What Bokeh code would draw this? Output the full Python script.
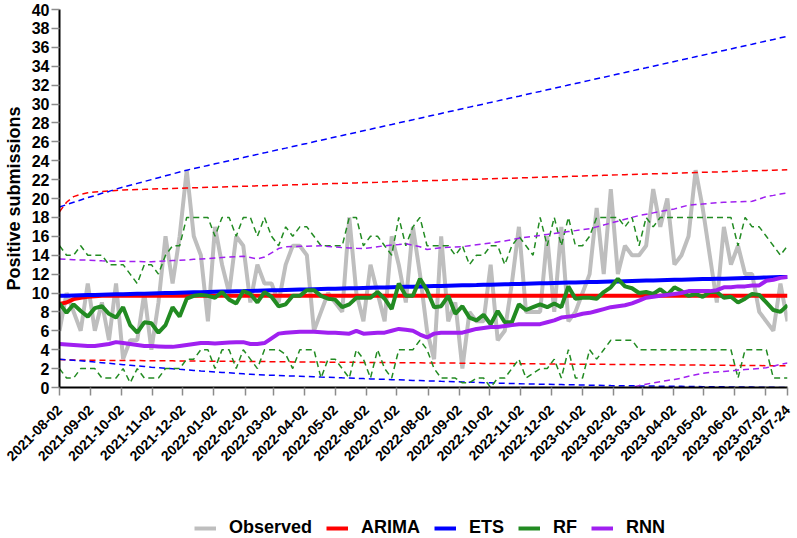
import math
import pandas as pd
from bokeh.plotting import figure
from bokeh.layouts import column
from bokeh.models import (Range1d, FixedTicker, DatetimeTickFormatter, Legend,
                          LegendItem, ColumnDataSource)
from bokeh.embed import file_html
from bokeh.resources import INLINE

# ---------------- data (weekly, starting 2021-08-02) ----------------
start_date = "2021-08-02"

observed = [6, 10, 8, 6, 11, 6, 9, 5, 11, 3,
            5, 5, 10, 4, 9, 16, 11, 16, 23, 16,
            14, 7, 17, 13, 10, 16, 15, 9, 13, 11,
            11, 9, 13, 15, 15, 14, 6, 8, 10, 9,
            8, 18, 10, 7, 13, 10, 7, 16, 13, 9,
            17, 12, 6, 3, 16, 7, 9, 2, 8, 7,
            7, 13, 5, 6, 11, 17, 8, 8, 8, 16,
            8, 17, 7, 8, 10, 12, 19, 12, 21, 12,
            15, 14, 14, 15, 21, 17, 20, 13, 14, 16,
            23, 19, 14, 9, 17, 13, 15, 12, 12, 8,
            7, 6, 11, 7]

arima_mean = [8.85, 9.0, 9.35, 9.5, 9.6, 9.65, 9.7, 9.7, 9.7, 9.7,
              9.7, 9.7, 9.7, 9.7, 9.7, 9.7, 9.7, 9.7, 9.7, 9.7,
              9.7, 9.7, 9.7, 9.7, 9.7, 9.7, 9.7, 9.7, 9.7, 9.7,
              9.7, 9.7, 9.7, 9.7, 9.7, 9.7, 9.7, 9.7, 9.7, 9.7,
              9.7, 9.7, 9.7, 9.7, 9.7, 9.7, 9.7, 9.7, 9.7, 9.7,
              9.7, 9.7, 9.7, 9.7, 9.7, 9.7, 9.7, 9.7, 9.7, 9.7,
              9.7, 9.7, 9.7, 9.7, 9.7, 9.7, 9.7, 9.7, 9.7, 9.7,
              9.7, 9.7, 9.7, 9.7, 9.7, 9.7, 9.7, 9.7, 9.7, 9.7,
              9.7, 9.7, 9.7, 9.7, 9.7, 9.7, 9.7, 9.7, 9.7, 9.7,
              9.7, 9.7, 9.7, 9.7, 9.7, 9.7, 9.7, 9.7, 9.7, 9.7,
              9.7, 9.7, 9.7, 9.7]

arima_upper = [18.6, 19.6, 20.2, 20.45, 20.6, 20.7, 20.75, 20.8, 20.85, 20.9,
               20.92, 20.95, 20.97, 21.0, 21.02, 21.04, 21.06, 21.09, 21.11, 21.13,
               21.15, 21.18, 21.2, 21.22, 21.25, 21.27, 21.29, 21.31, 21.34, 21.36,
               21.38, 21.4, 21.43, 21.45, 21.47, 21.5, 21.52, 21.54, 21.56, 21.59,
               21.61, 21.63, 21.65, 21.68, 21.7, 21.72, 21.75, 21.77, 21.79, 21.81,
               21.84, 21.86, 21.88, 21.9, 21.93, 21.95, 21.97, 22.0, 22.02, 22.04,
               22.06, 22.09, 22.11, 22.13, 22.15, 22.18, 22.2, 22.22, 22.25, 22.27,
               22.29, 22.31, 22.34, 22.36, 22.38, 22.4, 22.43, 22.45, 22.47, 22.5,
               22.52, 22.54, 22.56, 22.59, 22.61, 22.63, 22.65, 22.68, 22.7, 22.72,
               22.75, 22.77, 22.79, 22.81, 22.84, 22.86, 22.88, 22.9, 22.93, 22.95,
               22.97, 23.0, 23.02, 23.04]

arima_lower = [2.95, 2.92, 2.9, 2.89, 2.89, 2.88, 2.88, 2.87, 2.86, 2.86,
               2.85, 2.85, 2.84, 2.83, 2.83, 2.82, 2.82, 2.81, 2.8, 2.8,
               2.79, 2.79, 2.78, 2.77, 2.77, 2.76, 2.76, 2.75, 2.74, 2.74,
               2.73, 2.73, 2.72, 2.71, 2.71, 2.7, 2.7, 2.69, 2.68, 2.68,
               2.67, 2.67, 2.66, 2.65, 2.65, 2.64, 2.64, 2.63, 2.62, 2.62,
               2.61, 2.61, 2.6, 2.59, 2.59, 2.58, 2.58, 2.57, 2.56, 2.56,
               2.55, 2.55, 2.54, 2.53, 2.53, 2.52, 2.52, 2.51, 2.5, 2.5,
               2.49, 2.49, 2.48, 2.47, 2.47, 2.46, 2.46, 2.45, 2.44, 2.44,
               2.43, 2.43, 2.42, 2.41, 2.41, 2.4, 2.4, 2.39, 2.38, 2.38,
               2.37, 2.37, 2.36, 2.35, 2.35, 2.34, 2.34, 2.33, 2.32, 2.32,
               2.31, 2.31, 2.3, 2.3]

ets_mean = [9.7, 9.72, 9.74, 9.76, 9.78, 9.8, 9.82, 9.84, 9.86, 9.87,
            9.89, 9.91, 9.93, 9.95, 9.97, 9.99, 10.01, 10.03, 10.05, 10.07,
            10.09, 10.11, 10.13, 10.15, 10.17, 10.19, 10.2, 10.22, 10.24, 10.26,
            10.28, 10.3, 10.32, 10.34, 10.36, 10.38, 10.4, 10.42, 10.44, 10.46,
            10.48, 10.5, 10.51, 10.53, 10.55, 10.57, 10.59, 10.61, 10.63, 10.65,
            10.67, 10.69, 10.71, 10.73, 10.75, 10.77, 10.79, 10.81, 10.83, 10.84,
            10.86, 10.88, 10.9, 10.92, 10.94, 10.96, 10.98, 11.0, 11.02, 11.04,
            11.06, 11.08, 11.1, 11.12, 11.14, 11.16, 11.17, 11.19, 11.21, 11.23,
            11.25, 11.27, 11.29, 11.31, 11.33, 11.35, 11.37, 11.39, 11.41, 11.43,
            11.45, 11.47, 11.48, 11.5, 11.52, 11.54, 11.56, 11.58, 11.6, 11.62,
            11.64, 11.66, 11.68, 11.7]

ets_upper = [19.1, 19.35, 19.6, 19.85, 20.1, 20.3, 20.55, 20.75, 21.0, 21.2,
             21.4, 21.6, 21.8, 22.0, 22.2, 22.4, 22.6, 22.8, 23.0, 23.17,
             23.33, 23.5, 23.67, 23.83, 24.0, 24.17, 24.33, 24.5, 24.67, 24.83,
             25.0, 25.17, 25.33, 25.5, 25.67, 25.83, 26.0, 26.17, 26.33, 26.5,
             26.67, 26.83, 27.0, 27.17, 27.33, 27.5, 27.67, 27.83, 28.0, 28.17,
             28.33, 28.5, 28.67, 28.83, 29.0, 29.17, 29.33, 29.5, 29.67, 29.83,
             30.0, 30.17, 30.33, 30.5, 30.67, 30.83, 31.0, 31.17, 31.33, 31.5,
             31.67, 31.83, 32.0, 32.17, 32.33, 32.5, 32.67, 32.83, 33.0, 33.17,
             33.33, 33.5, 33.67, 33.83, 34.0, 34.17, 34.33, 34.5, 34.67, 34.83,
             35.0, 35.17, 35.33, 35.5, 35.67, 35.83, 36.0, 36.17, 36.33, 36.5,
             36.67, 36.83, 37.0, 37.17]

ets_lower = [3.0, 2.94, 2.88, 2.82, 2.76, 2.7, 2.63, 2.56, 2.49, 2.42,
             2.35, 2.28, 2.22, 2.15, 2.09, 2.04, 1.98, 1.92, 1.87, 1.81,
             1.75, 1.7, 1.65, 1.6, 1.55, 1.5, 1.45, 1.4, 1.35, 1.32,
             1.3, 1.27, 1.24, 1.21, 1.19, 1.16, 1.13, 1.1, 1.08, 1.05,
             1.02, 1.0, 0.97, 0.94, 0.91, 0.89, 0.86, 0.83, 0.81, 0.78,
             0.75, 0.73, 0.7, 0.68, 0.65, 0.63, 0.61, 0.58, 0.56, 0.54,
             0.51, 0.49, 0.46, 0.44, 0.42, 0.4, 0.38, 0.37, 0.35, 0.34,
             0.32, 0.31, 0.29, 0.28, 0.26, 0.25, 0.23, 0.22, 0.2, 0.19,
             0.18, 0.18, 0.17, 0.16, 0.15, 0.14, 0.13, 0.13, 0.12, 0.11,
             0.1, 0.09, 0.08, 0.08, 0.07, 0.06, 0.05, 0.05, 0.04, 0.03,
             0.02, 0.02, 0.01, 0.0]

rf_mean = [8.9, 7.9, 8.8, 8.1, 7.5, 8.4, 8.6, 7.8, 7.4, 8.5,
           6.6, 5.8, 6.9, 6.8, 5.8, 6.6, 8.5, 7.5, 9.4, 9.7,
           9.8, 9.7, 9.5, 10.1, 9.3, 8.9, 10.2, 9.9, 9.0, 10.1,
           9.6, 8.6, 8.8, 9.7, 9.7, 10.3, 10.3, 9.7, 9.4, 9.3,
           8.5, 8.8, 9.5, 9.5, 9.5, 10.1, 9.4, 8.3, 11.0, 9.7,
           9.7, 11.5, 10.3, 8.5, 8.6, 9.7, 7.8, 8.6, 7.4, 7.1,
           7.7, 6.7, 8.1, 6.9, 6.9, 8.8, 8.2, 8.5, 8.8, 8.5,
           8.9, 8.5, 10.7, 9.4, 9.5, 9.5, 9.4, 10.1, 10.6, 11.5,
           10.7, 10.5, 10.0, 10.1, 9.9, 10.4, 9.8, 10.6, 10.2, 9.7,
           9.9, 9.6, 10.1, 10.1, 9.5, 9.6, 9.0, 9.4, 9.9, 9.8,
           9.0, 8.2, 8.0, 8.7]

rf_upper = [15, 14, 14, 15, 14, 14, 14, 13, 13, 13,
            12, 11, 13, 13, 12, 14, 15, 15, 18, 18,
            18, 18, 16, 18, 18, 16, 18, 18, 16, 18,
            16, 15, 17, 16, 17, 17, 16, 15, 15, 15,
            15, 18, 18, 15, 16, 16, 15, 14, 18, 15,
            17, 18, 15, 15, 15, 15, 14, 15, 13, 14,
            14, 15, 15, 13, 15, 16, 15, 14, 18, 15,
            18, 15, 18, 15, 15, 16, 18, 18, 18, 18,
            17, 18, 15, 18, 17, 18, 18, 18, 18, 18,
            18, 18, 18, 18, 18, 18, 15, 18, 17, 17,
            16, 15, 14, 15]

rf_lower = [2, 1, 1, 2, 2, 2, 1, 1, 1, 2,
            0.5, 2, 1, 1, 1, 2, 2, 2, 3, 3,
            4, 4, 2, 4, 4, 2, 4, 3, 2, 4,
            4, 4, 3.5, 2, 4, 4, 4, 1, 3, 3,
            2, 1, 4, 3, 1, 4, 2, 1, 4, 4,
            4, 5, 4, 2, 1, 1, 1, 0.5, 0.5, 1,
            1, 0, 1, 1, 2, 3, 1, 1.5, 2, 2,
            3, 1, 4, 1, 1, 4, 3, 4, 5, 5,
            5, 5, 4, 4, 4, 4, 4, 4, 4, 4,
            4, 4, 4, 4, 4, 4, 1, 4, 4, 4,
            4, 1, 1, 1]

rnn_mean = [4.6, 4.55, 4.5, 4.45, 4.4, 4.4, 4.5, 4.6, 4.8, 4.7,
            4.6, 4.5, 4.4, 4.4, 4.35, 4.3, 4.3, 4.4, 4.5, 4.6,
            4.7, 4.7, 4.65, 4.7, 4.75, 4.8, 4.8, 4.6, 4.6, 4.7,
            5.2, 5.7, 5.8, 5.85, 5.9, 5.9, 5.9, 5.85, 5.8, 5.8,
            5.75, 5.7, 6.0, 5.7, 5.75, 5.8, 5.8, 6.0, 6.2, 6.1,
            6.0, 5.6, 5.3, 5.7, 5.8, 5.8, 5.8, 5.8, 6.0, 6.2,
            6.3, 6.4, 6.4, 6.5, 6.6, 6.7, 6.7, 6.7, 6.7, 6.9,
            7.1, 7.4, 7.5, 7.6, 7.8, 7.9, 8.1, 8.3, 8.5, 8.6,
            8.7, 8.9, 9.2, 9.5, 9.6, 9.7, 9.8, 9.9, 10.0, 10.2,
            10.2, 10.2, 10.2, 10.3, 10.6, 10.6, 10.7, 10.7, 10.8, 10.8,
            11.3, 11.4, 11.6, 11.7]

rnn_upper = [13.6, 13.57, 13.53, 13.5, 13.47, 13.43, 13.4, 13.39, 13.37, 13.36,
             13.34, 13.33, 13.31, 13.3, 13.34, 13.39, 13.43, 13.47, 13.51, 13.56,
             13.6, 13.65, 13.7, 13.75, 13.8, 13.85, 13.9, 13.75, 13.6, 13.8,
             14.25, 14.7, 14.9, 14.92, 14.94, 14.96, 14.98, 15.0, 14.93, 14.87,
             14.8, 14.77, 14.73, 14.7, 14.8, 14.9, 15.0, 15.07, 15.13, 15.2,
             15.05, 14.9, 14.6, 14.7, 14.8, 14.83, 14.87, 14.9, 15.0, 15.1,
             15.2, 15.3, 15.4, 15.5, 15.65, 15.8, 15.9, 16.0, 16.1, 16.2,
             16.3, 16.4, 16.5, 16.6, 16.7, 16.8, 17.0, 17.2, 17.4, 17.6,
             17.8, 18.0, 18.2, 18.34, 18.48, 18.62, 18.76, 18.9, 19.1, 19.3,
             19.36, 19.42, 19.48, 19.54, 19.6, 19.63, 19.65, 19.68, 19.7, 19.95,
             20.2, 20.33, 20.47, 20.6]

# RNN lower bound is below zero (outside the axis) before week 80
rnn_lower_first_week = 80
rnn_lower = [-0.2, 0.0, 0.2, 0.35, 0.5, 0.6, 0.75, 0.85, 1.0, 1.2,
             1.35, 1.5, 1.6, 1.65, 1.7, 1.75, 1.85, 1.9, 1.95, 2.0,
             2.1, 2.25, 2.45, 2.6]

tick_labels = ["2021-08-02", "2021-09-02", "2021-10-02", "2021-11-02", "2021-12-02",
               "2022-01-02", "2022-02-02", "2022-03-02", "2022-04-02", "2022-05-02",
               "2022-06-02", "2022-07-02", "2022-08-02", "2022-09-02", "2022-10-02",
               "2022-11-02", "2022-12-02", "2023-01-02", "2023-02-02", "2023-03-02",
               "2023-04-02", "2023-05-02", "2023-06-02", "2023-07-02", "2023-07-24"]
y_ticks = [0, 2, 4, 6, 8, 10, 12, 14, 16, 18, 20, 22, 24, 26, 28, 30, 32, 34, 36, 38, 40]

series_names = ["Observed", "ARIMA", "ETS", "RF", "RNN"]

# ---------------- colours ----------------
C_OBS = "#BEBEBE"
C_ARIMA = "#FF0000"
C_ETS = "#0000FF"
C_RF = "#228B22"
C_RNN = "#A020F0"
FONT = "Liberation Sans"

dates = pd.date_range(start_date, periods=len(observed), freq="7D")
src = ColumnDataSource(dict(date=dates, observed=observed,
                            arima_mean=arima_mean, arima_upper=arima_upper, arima_lower=arima_lower,
                            ets_mean=ets_mean, ets_upper=ets_upper, ets_lower=ets_lower,
                            rf_mean=rf_mean, rf_upper=rf_upper, rf_lower=rf_lower,
                            rnn_mean=rnn_mean, rnn_upper=rnn_upper))
src_rnn_low = ColumnDataSource(dict(date=dates[rnn_lower_first_week:], rnn_lower=rnn_lower))

W = 797
MAIN_H = 500
LEG_H = 38

p = figure(width=W, height=MAIN_H, x_axis_type="datetime",
           x_range=Range1d(dates[0], dates[-1]), y_range=Range1d(0, 40),
           output_backend="svg", toolbar_location=None,
           min_border_left=57, min_border_right=10, min_border_top=9,
           min_border_bottom=MAIN_H - 387)
p.outline_line_color = None
p.xgrid.visible = False
p.ygrid.visible = False
p.background_fill_color = "white"
p.border_fill_color = "white"

SOLID_W = 4
DASH_W = 1.5
DASH = "6 4"

p.line("date", "observed", source=src, line_color=C_OBS, line_width=SOLID_W)

p.line("date", "arima_upper", source=src, line_color=C_ARIMA, line_width=DASH_W, line_dash=DASH)
p.line("date", "arima_lower", source=src, line_color=C_ARIMA, line_width=DASH_W, line_dash=DASH)
p.line("date", "arima_mean", source=src, line_color=C_ARIMA, line_width=SOLID_W)

p.line("date", "ets_upper", source=src, line_color=C_ETS, line_width=DASH_W, line_dash=DASH)
p.line("date", "ets_lower", source=src, line_color=C_ETS, line_width=DASH_W, line_dash=DASH)
p.line("date", "ets_mean", source=src, line_color=C_ETS, line_width=SOLID_W)

p.line("date", "rf_upper", source=src, line_color=C_RF, line_width=DASH_W, line_dash=DASH)
p.line("date", "rf_lower", source=src, line_color=C_RF, line_width=DASH_W, line_dash=DASH)
p.line("date", "rf_mean", source=src, line_color=C_RF, line_width=SOLID_W)

p.line("date", "rnn_upper", source=src, line_color=C_RNN, line_width=DASH_W, line_dash=DASH)
p.line("date", "rnn_lower", source=src_rnn_low, line_color=C_RNN, line_width=DASH_W, line_dash=DASH)
p.line("date", "rnn_mean", source=src, line_color=C_RNN, line_width=SOLID_W)

# ---------------- axes ----------------
tick_ms = [pd.Timestamp(t).value / 1e6 for t in tick_labels]
xa = p.xaxis[0]
xa.ticker = FixedTicker(ticks=tick_ms, minor_ticks=[])
fmt = "%Y-%m-%d"
xa.formatter = DatetimeTickFormatter(microseconds=fmt, milliseconds=fmt, seconds=fmt,
                                     minsec=fmt, minutes=fmt, hourmin=fmt, hours=fmt,
                                     days=fmt, months=fmt, years=fmt)
xa.major_label_orientation = math.pi / 4

ya = p.yaxis[0]
ya.ticker = FixedTicker(ticks=y_ticks, minor_ticks=[])
ya.axis_label = "Positive submissions"
ya.axis_label_text_font = FONT
ya.axis_label_text_font_style = "bold"
ya.axis_label_text_font_size = "18px"
ya.axis_label_text_color = "black"
ya.axis_label_standoff = 5

for ax, fs, sd in ((xa, "14px", 12), (ya, "16px", 2)):
    ax.axis_line_color = "black"
    ax.axis_line_width = 2
    ax.major_tick_line_color = "#8C8C8C"
    ax.major_tick_line_width = 1.5
    ax.major_tick_out = 8
    ax.major_tick_in = 0
    ax.minor_tick_line_color = None
    ax.major_label_text_font = FONT
    ax.major_label_text_font_style = "bold"
    ax.major_label_text_font_size = fs
    ax.major_label_text_color = "black"
    ax.major_label_standoff = sd

# ---------------- legend strip (separate svg figure under the chart) ----------------
lg = figure(width=W, height=LEG_H, output_backend="svg", toolbar_location=None,
            x_range=Range1d(0, 1), y_range=Range1d(0, 1),
            x_axis_location=None, y_axis_location=None,
            min_border_left=0, min_border_right=0, min_border_top=0, min_border_bottom=0)
lg.outline_line_color = None
lg.xgrid.visible = False
lg.ygrid.visible = False
lg.border_fill_color = "white"
lg.background_fill_color = "white"

# key lines: they lie outside this strip's visible range, only their legend glyphs show
items = []
for name, col in zip(series_names, [C_OBS, C_ARIMA, C_ETS, C_RF, C_RNN]):
    r = lg.line(x=[5, 6], y=[5, 6], line_color=col, line_width=SOLID_W)
    items.append(LegendItem(label=name, renderers=[r]))

legend = Legend(items=items, orientation="horizontal", location=(135, 0),
                label_text_font=FONT, label_text_font_style="bold",
                label_text_font_size="18px", label_text_color="black",
                glyph_width=22, glyph_height=20, label_standoff=13, spacing=14,
                padding=0, margin=0, border_line_color=None, background_fill_alpha=0)
lg.add_layout(legend)

layout = column(p, lg, spacing=0)
open("out.html", "w").write(file_html(layout, INLINE))
